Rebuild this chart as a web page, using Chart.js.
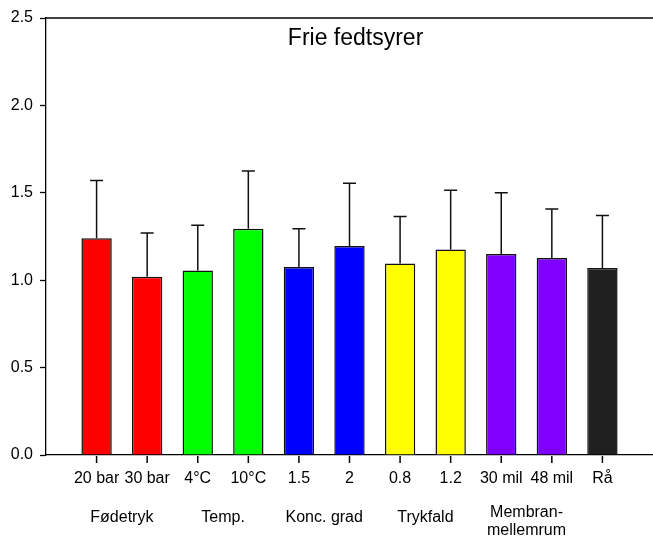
<!DOCTYPE html>
<html>
<head>
<meta charset="utf-8">
<script src="https://cdn.jsdelivr.net/npm/chart.js@4.4.1/dist/chart.umd.min.js"></script>
<style>
  html, body { margin: 0; padding: 0; background: #fff; }
  #wrap { width: 653px; height: 537px; position: relative; }
</style>
</head>
<body>
<div id="wrap"><canvas id="c" width="653" height="537"></canvas></div>
<script>
// ---- data ----
const categories = ["20 bar", "30 bar", "4°C", "10°C", "1.5", "2", "0.8", "1.2", "30 mil", "48 mil", "Rå"];
const means      = [1.24, 1.02, 1.055, 1.295, 1.075, 1.195, 1.095, 1.175, 1.15, 1.127, 1.07];
const errors     = [0.33, 0.25, 0.26, 0.33, 0.22, 0.36, 0.27, 0.34, 0.35, 0.28, 0.30];
const barColors  = ["#ff0000", "#ff0000", "#00ff00", "#00ff00", "#0000ff", "#0000ff", "#ffff00", "#ffff00", "#8000ff", "#8000ff", "#202020"];
const groupNames = [["Fødetryk"], ["Temp."], ["Konc. grad"], ["Trykfald"], ["Membran-", "mellemrum"]];
const groupSpans = [[0, 1], [2, 3], [4, 5], [6, 7], [8, 9]];
const yTicks     = [0, 0.5, 1.0, 1.5, 2.0, 2.5];
const titleText  = "Frie fedtsyrer";

// padded category list (empty slot before and after)
const labels = [""].concat(categories, [""]);
const padded = [null].concat(means, [null]);
const paddedColors = ["#fff"].concat(barColors, ["#fff"]);

const FONT = "'Liberation Sans', Arial, sans-serif";

const extras = {
  id: "extras",
  afterDraw(chart) {
    const ctx = chart.ctx;
    const xs = chart.scales.x, ys = chart.scales.y;
    const ca = chart.chartArea;
    ctx.save();
    // error bars (upper only)
    ctx.strokeStyle = "#111";
    ctx.lineWidth = 1.5;
    means.forEach((m, i) => {
      const x = xs.getPixelForValue(i + 1);
      const y0 = ys.getPixelForValue(m);
      const y1 = ys.getPixelForValue(m + errors[i]);
      ctx.beginPath();
      ctx.moveTo(x, y0);
      ctx.lineTo(x, y1);
      ctx.moveTo(x - 6.5, y1);
      ctx.lineTo(x + 6.5, y1);
      ctx.stroke();
    });
    // top frame line
    ctx.lineWidth = 1.3;
    ctx.strokeStyle = "#000";
    ctx.beginPath();
    ctx.moveTo(ca.left, ca.top);
    ctx.lineTo(ca.right, ca.top);
    ctx.stroke();
    // x tick marks under each bar
    ctx.lineWidth = 1.5;
    ctx.strokeStyle = "#000";
    for (let i = 0; i < categories.length; i++) {
      const x = xs.getPixelForValue(i + 1);
      ctx.beginPath();
      ctx.moveTo(x, ca.bottom + 1);
      ctx.lineTo(x, ca.bottom + 8);
      ctx.stroke();
    }
    // title inside plot
    ctx.fillStyle = "#000";
    ctx.font = "23px " + FONT;
    ctx.textAlign = "center";
    ctx.textBaseline = "middle";
    ctx.fillText(titleText, ca.left + (ca.right - ca.left) * 0.51, ca.top + 21);
    // group labels
    ctx.font = "16px " + FONT;
    groupNames.forEach((lines, g) => {
      const [a, b] = groupSpans[g];
      const x = (xs.getPixelForValue(a + 1) + xs.getPixelForValue(b + 1)) / 2;
      const yStart = lines.length > 1 ? ca.bottom + 58 : ca.bottom + 63;
      lines.forEach((t, k) => ctx.fillText(t, x, yStart + k * 18));
    });
    ctx.restore();
  }
};

new Chart(document.getElementById("c"), {
  type: "bar",
  data: {
    labels: labels,
    datasets: [{
      data: padded,
      backgroundColor: paddedColors,
      borderColor: "#111",
      borderWidth: 1.5,
      borderSkipped: "bottom",
      barPercentage: 0.6,
      categoryPercentage: 1.0
    }]
  },
  options: {
    responsive: false,
    animation: false,
    devicePixelRatio: 1,
    layout: { padding: { top: 18, right: 0, left: 0, bottom: 0 } },
    plugins: { legend: { display: false }, tooltip: { enabled: false }, title: { display: false } },
    scales: {
      x: {
        offset: false,
        grid: {
          display: true,
          offset: false,
          drawOnChartArea: false,
          drawTicks: true,
          tickLength: 6,
          tickWidth: 1.3,
          tickColor: "rgba(0,0,0,0)"
        },
        border: { display: true, color: "#000", width: 1.3 },
        ticks: {
          autoSkip: false, maxRotation: 0, minRotation: 0,
          color: "#000", padding: 8,
          font: { family: FONT, size: 16 }
        },
        afterFit(scale) { scale.height = 82; scale.paddingLeft = 0; scale.paddingRight = 0; }
      },
      y: {
        min: 0, max: 2.5,
        afterBuildTicks(scale) { scale.ticks = yTicks.map(v => ({ value: v })); },
        grid: {
          display: true,
          drawOnChartArea: false,
          drawTicks: true,
          tickLength: 6,
          tickWidth: 1.3,
          tickColor: "#000"
        },
        border: { display: true, color: "#000", width: 1.3 },
        ticks: {
          color: "#000", padding: 7,
          font: { family: FONT, size: 16 },
          callback: (v) => Number(v).toFixed(1)
        },
        afterFit(scale) { scale.width = 46; scale.paddingTop = 0; scale.paddingBottom = 0; }
      }
    }
  },
  plugins: [extras]
});
</script>
</body>
</html>
